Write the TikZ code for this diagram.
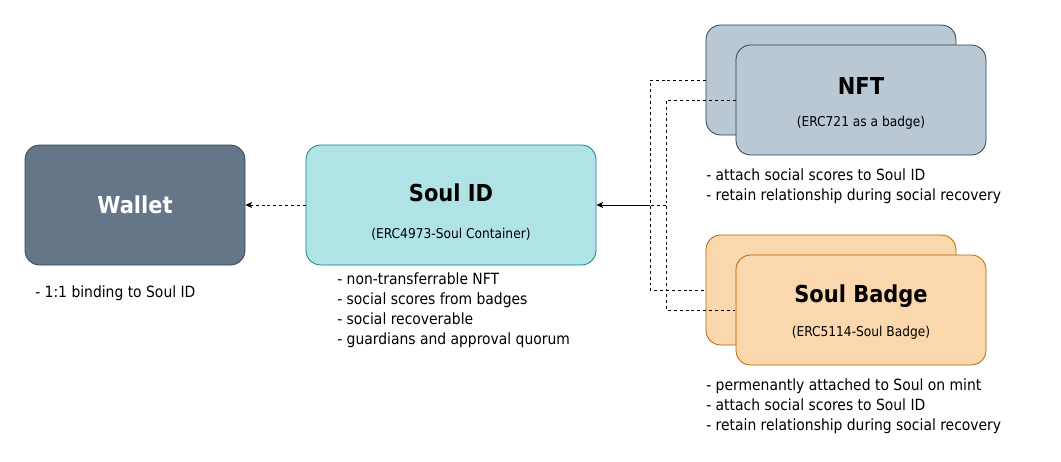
\documentclass[tikz,border=0pt]{standalone}
\usepackage{fontspec}
\setmainfont{DejaVu Sans Condensed}
\usetikzlibrary{arrows.meta}
\definecolor{wfill}{HTML}{647687}
\definecolor{wdraw}{HTML}{314354}
\definecolor{sfill}{HTML}{B0E3E6}
\definecolor{sdraw}{HTML}{0E8088}
\definecolor{nfill}{HTML}{BAC8D3}
\definecolor{ndraw}{HTML}{23445D}
\definecolor{bfill}{HTML}{FAD7AC}
\definecolor{bdraw}{HTML}{B46504}
\begin{document}
\begin{tikzpicture}[x=0.75pt,y=-0.75pt,
  box/.style={draw, rounded corners=11pt, line width=0.6pt, inner sep=0pt},
  wbox/.style={box, fill=wfill, draw=wdraw, minimum width=165pt, minimum height=90pt},
  sbox/.style={box, fill=sfill, draw=sdraw, minimum width=217.5pt, minimum height=90pt},
  nbox/.style={box, fill=nfill, draw=ndraw, minimum width=187.5pt, minimum height=82.5pt},
  bbox/.style={box, fill=bfill, draw=bdraw, minimum width=187.5pt, minimum height=82.5pt},
  title/.style={font=\fontsize{17.5}{20}\selectfont\bfseries, inner sep=0pt},
  sub/.style={font=\fontsize{10.2}{12}\selectfont, inner sep=0pt},
  note/.style={font=\fontsize{11.6}{15.2}\selectfont, align=left, anchor=north west, inner sep=0pt},
  link/.style={line width=0.6pt, dash pattern=on 2.2pt off 2.2pt},
  tip/.style={-{Stealth[length=5pt,width=4.5pt,inset=1.3pt]}}
]
\path[use as bounding box] (0,0) rectangle (1061,461);

\node[wbox] (wallet) at (135,205) {};
\node[title, text=white] (wallett) at (135,205) {Wallet};

\node[sbox] (soul) at (451,205) {};
\node[title] (soult) at (451,193) {Soul ID};
\node[sub] (souls) at (451,234) {(ERC4973-Soul Container)};

\node[nbox] (nftback) at (831,80) {};
\node[nbox] (nftfront) at (861,100) {};
\node[title] (nftt) at (861,86) {NFT};
\node[sub] (nfts) at (861,123) {(ERC721 as a badge)};

\node[bbox] (badgeback) at (831,290) {};
\node[bbox] (badgefront) at (861,310) {};
\node[title] (badget) at (861,296) {Soul Badge};
\node[sub] (badges) at (861,333) {(ERC5114-Soul Badge)};

\node[note] (wnote) at (35,285) {- 1:1 binding to Soul ID};
\node[note] (snote) at (337,272) {- non-transferrable NFT\\- social scores from badges\\- social recoverable\\- guardians and approval quorum};
\node[note] (nnote) at (706,168) {- attach social scores to Soul ID\\- retain relationship during social recovery};
\node[note] (bnote) at (706,378) {- permenantly attached to Soul on mint\\- attach social scores to Soul ID\\- retain relationship during social recovery};

\coordinate (j1) at (650,205);
\coordinate (j2) at (666,205);

\draw[link, tip] (soul.west) -- (wallet.east);
\draw[line width=0.6pt, tip] (j1) -- (soul.east);
\draw[link] (j2) -- (j1);
\draw[link] (nftback.west) -| (j1) |- (badgeback.west);
\draw[link] (nftfront.west) -| (j2) |- (badgefront.west);
\end{tikzpicture}
\end{document}
